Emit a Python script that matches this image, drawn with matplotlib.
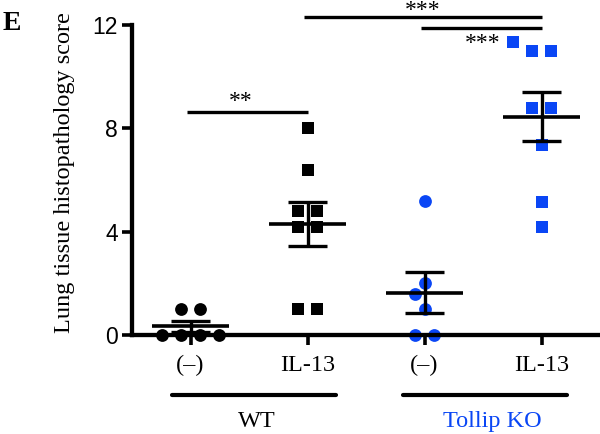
import numpy as np
import matplotlib
matplotlib.use("Agg")
import matplotlib.pyplot as plt

# ---------------- data ----------------
conditions = ['(\u2013)', 'IL-13', '(\u2013)', 'IL-13']
groups = ['WT', 'Tollip KO']
wt_ctrl = [0, 0, 0, 0, 1, 1]
wt_il13 = [8, 6.4, 4.8, 4.8, 4.2, 4.2, 1, 1]
ko_ctrl = [5.2, 2, 1.6, 1, 0, 0]
ko_il13 = [11.35, 11, 11, 8.8, 8.8, 7.35, 5.15, 4.2]
sig_pairs = [(1, 2), (3, 4), (2, 4)]
sig_labels = ['**', '***', '***']
yticks = [0, 4, 8, 12]
ylabel = 'Lung tissue histopathology score'

# ---------------- style ----------------
BLUE = '#0a46f5'
plt.rcParams['font.family'] = ['Liberation Serif', 'DejaVu Serif']
fig = plt.figure(figsize=(6, 4.34), dpi=100)
ax = fig.add_axes([132 / 600, 99 / 434, 468 / 600, 310 / 434])
ax.set_xlim(0.5, 4.5)
ax.set_ylim(0, 12)

positions = [1, 2, 3, 4]
series = [wt_ctrl, wt_il13, ko_ctrl, ko_il13]
colors = ['black', 'black', BLUE, BLUE]
markers = ['o', 's', 'o', 's']

# pixel scale
p0 = ax.transData.transform((0, 0))
ppx = ax.transData.transform((1, 0))[0] - p0[0]
ppy = ax.transData.transform((0, 1))[1] - p0[1]
d = 19 / ppx  # spacing between neighbouring points in data units


def swarm(vals, marker, thresh=13.0, descending=False):
    vals = np.asarray(vals, float)
    offs = np.zeros(len(vals))
    placed = []
    steps = [0]
    for s in np.arange(0.5, 6, 0.5):
        steps += [-s, s]
    for v in sorted(set(vals), reverse=descending):
        idx = np.where(vals == v)[0]
        k = len(idx)
        base = (np.arange(k) - (k - 1) / 2) * d
        for st in steps:
            cand = base + st * d
            ok = True
            for c in cand:
                for (px, py) in placed:
                    dx = abs(c - px) * ppx
                    dy = abs(v - py) * ppy
                    dist = max(dx, dy) if marker == 's' else np.hypot(dx, dy)
                    if dist < thresh:
                        ok = False
                        break
                if not ok:
                    break
            if ok:
                break
        for i, c in zip(idx, cand):
            offs[i] = c
            placed.append((c, v))
    return offs


for pos, vals, col, mk in zip(positions, series, colors, markers):
    offs = swarm(vals, mk, descending=(mk == 'o'))
    ax.plot(pos + offs, vals, linestyle='none', marker=mk, ms=9.2 if mk == 'o' else 8.8,
            color=col, mec=col, mew=0, clip_on=False, zorder=2)
    v = np.asarray(vals, float)
    m = v.mean()
    sem = v.std(ddof=1) / np.sqrt(len(v))
    ax.plot([pos - 0.325, pos + 0.325], [m, m], color='black', lw=2.6, zorder=4,
            solid_capstyle='butt', clip_on=False)
    ax.plot([pos - 0.17, pos + 0.17], [m + sem, m + sem], color='black', lw=2.4, zorder=4,
            solid_capstyle='butt', clip_on=False)
    ax.plot([pos - 0.17, pos + 0.17], [m - sem, m - sem], color='black', lw=2.4, zorder=4,
            solid_capstyle='butt', clip_on=False)
    ax.plot([pos, pos], [m - sem, m + sem], color='black', lw=2.4, zorder=4,
            solid_capstyle='butt', clip_on=False)

# axes styling
for s in ['top', 'right']:
    ax.spines[s].set_visible(False)
for s in ['left', 'bottom']:
    ax.spines[s].set_linewidth(3.1)
ax.spines['bottom'].set_zorder(3)
ax.set_yticks(yticks)
ax.set_yticklabels([str(t) for t in yticks], fontfamily='Liberation Sans', fontsize=16.5)
ax.set_xticks(positions)
ax.set_xticklabels(conditions, fontsize=17.5)
ax.tick_params(axis='both', direction='out', length=7, width=2.6)
ax.tick_params(axis='y', pad=3)
ax.tick_params(axis='x', pad=7.5)
ax.set_ylabel(ylabel, fontsize=17.5)
ax.yaxis.set_label_coords(-0.122, 0.523)

# significance bars
sig_y = [8.63, 11.89, 12.31]
sig_dy = [3.5, -15, 1]
sig_dx = [-0.07, 0.0, -0.02]
for (a, b), lab, y, dy, dx in zip(sig_pairs, sig_labels, sig_y, sig_dy, sig_dx):
    ax.plot([a - 0.03, b], [y, y], color='black', lw=2.4, clip_on=False,
            solid_capstyle='butt')
    ax.annotate(lab, xy=((a + b) / 2 + dx, y), xytext=(0, dy), textcoords='offset points',
                ha='center', va='baseline', fontsize=17, annotation_clip=False)

# group bars
group_spans = [(0.838, 2.24), (2.82, 4.22)]
group_colors = ['black', BLUE]
group_text_dx = [0.03, 0.06]
for (x0, x1), g, c, tdx in zip(group_spans, groups, group_colors, group_text_dx):
    ax.plot([x0, x1], [-2.32, -2.32], color='black', lw=3.0, clip_on=False,
            solid_capstyle='round')
    ax.text((x0 + x1) / 2 + tdx, -3.33, g, ha='center', va='center', fontsize=17.5,
            color=c, clip_on=False)

fig.text(0.004, 0.975, 'E', fontsize=20, fontweight='bold', ha='left', va='top')

fig.savefig('out.png', dpi=100)
